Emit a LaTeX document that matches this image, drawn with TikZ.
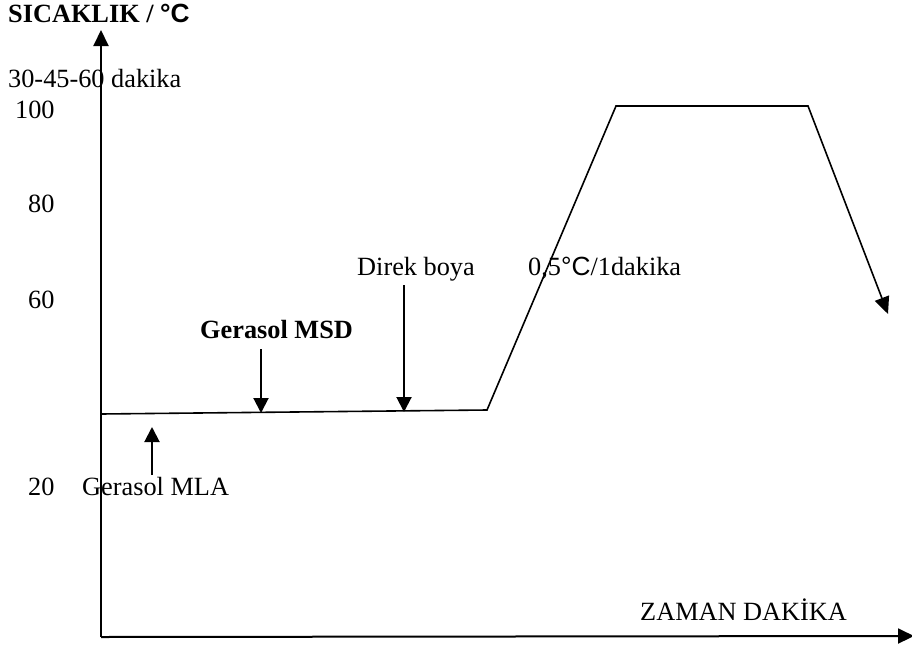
\documentclass[tikz,border=0pt]{standalone}
\usepackage{fontspec}
\setmainfont{Liberation Serif}
\newfontfamily\sansf{Liberation Sans}
\usetikzlibrary{arrows.meta}
\begin{document}
\begin{tikzpicture}[x=1pt,y=-1pt,
  lbl/.style={anchor=base west, inner sep=0pt, font=\fontsize{26.3}{30}\selectfont},
  bl/.style={lbl, font=\fontsize{26.3}{30}\selectfont\bfseries},
  ax/.style={line width=2pt, -{Triangle[width=15pt,length=16pt]}},
  curve/.style={line width=1.6pt, line join=miter, -{Triangle[width=15pt,length=17pt]}},
  dosearrow/.style={line width=2pt, -{Triangle[width=15pt,length=15pt]}}]
\useasboundingbox (0,0) rectangle (912,645);
% axes
\coordinate (o) at (101,637);
\coordinate (ytop) at (101,30);
\coordinate (xend) at (914,636);
\draw[ax] (o) -- (ytop);
\draw[ax] (o) -- (xend);
% labels
\node[bl] (title) at (8,23) {SICAKLIK / {\sansf °C}};
\node[lbl] (dak) at (8,87) {30-45-60 dakika};
\node[lbl] (l100) at (15,118) {100};
\node[lbl] (l80) at (28,212) {80};
\node[lbl] (l60) at (28,308) {60};
\node[lbl] (l20) at (28,495) {20};
\node[lbl] (mla) at (82,495) {Gerasol MLA};
\node[bl] (msd) at (200,338) {Gerasol MSD};
\node[lbl] (direk) at (357,275) {Direk boya};
\node[lbl] (rate) at (528,275) {0,5{\sansf °C}/1dakika};
\node[lbl] (zaman) at (640,620) {ZAMAN DAKİKA};
% temperature curve
\coordinate (c0) at (101,414);
\coordinate (c1) at (487,410);
\coordinate (c2) at (616,106);
\coordinate (c3) at (808,106);
\coordinate (c4) at (888,314);
\draw[curve] (c0) -- (c1) -- (c2) -- (c3) -- (c4);
% dosing arrows
\coordinate (mlaS) at (152,475);
\coordinate (mlaE) at (152,427);
\coordinate (msdS) at (261,349);
\coordinate (msdE) at (261,413);
\coordinate (dirS) at (404,285);
\coordinate (dirE) at (404,412);
\draw[dosearrow] (mlaS) -- (mlaE);
\draw[dosearrow] (msdS) -- (msdE);
\draw[dosearrow] (dirS) -- (dirE);
\end{tikzpicture}
\end{document}
